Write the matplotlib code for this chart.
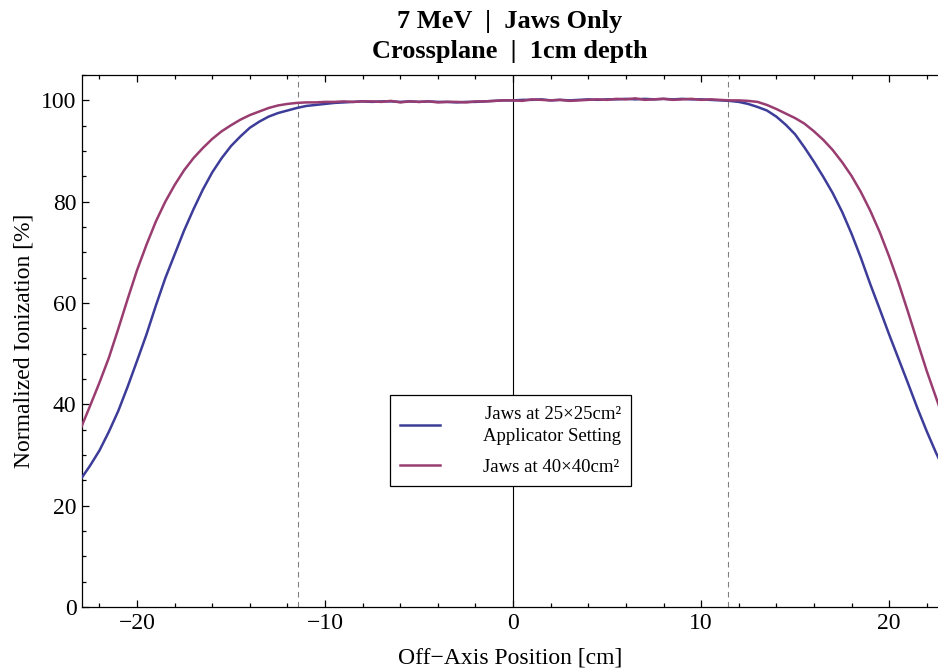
import numpy as np
import matplotlib
matplotlib.use("Agg")
import matplotlib.pyplot as plt
from matplotlib.ticker import MultipleLocator

plt.rcParams['font.family'] = ['Liberation Serif', 'DejaVu Serif']
plt.rcParams['mathtext.fontset'] = 'stix'

# off-axis positions [cm], sampled every 0.5 cm
position = np.arange(-23.0, 23.01, 0.5)

# jaws at 25x25 cm^2 (applicator setting)
jaws_25 = [
    25.2, 27.9, 30.9, 34.6, 38.7, 43.5, 48.6, 53.8, 59.5, 64.9,
    69.6, 74.3, 78.5, 82.4, 85.8, 88.6, 91.0, 92.9, 94.6, 95.8,
    96.8, 97.5, 98.0, 98.5, 98.9, 99.1, 99.3,
    99.5, 99.6, 99.7, 99.8, 99.7, 99.8, 99.8, 99.7, 99.8, 99.7,
    99.8, 99.7, 99.7, 99.6, 99.7, 99.7, 99.8, 99.9, 100.0, 100.0,
    100.1, 100.1, 100.2, 100.0, 100.1, 100.0, 100.1, 100.2, 100.1, 100.2,
    100.2, 100.3, 100.2, 100.3, 100.2, 100.3, 100.2, 100.3, 100.2, 100.2,
    100.1,
    100.0, 99.9, 99.7, 99.3, 98.7, 98.0, 96.8, 95.2, 93.3, 90.7,
    87.9, 84.9, 81.7, 78.0, 73.7, 68.9, 63.7, 58.8, 53.8, 49.0,
    44.2, 39.3, 34.7, 30.4, 26.5,
]

# jaws at 40x40 cm^2
jaws_40 = [
    35.2, 39.7, 44.3, 49.2, 54.9, 60.8, 66.5, 71.5, 76.1, 80.0,
    83.3, 86.2, 88.6, 90.6, 92.4, 93.9, 95.1, 96.2, 97.1, 97.8,
    98.5, 99.0, 99.3, 99.5, 99.6, 99.6, 99.7,
    99.7, 99.8, 99.7, 99.8, 99.8, 99.7, 99.9, 99.6, 99.8, 99.7,
    99.8, 99.6, 99.7, 99.7, 99.6, 99.8, 99.8, 99.9, 100.0, 100.0,
    99.9, 100.2, 100.1, 100.0, 100.1, 99.9, 100.0, 100.1, 100.2, 100.1,
    100.3, 100.2, 100.4, 100.1, 100.2, 100.3, 100.1, 100.2, 100.3, 100.1,
    100.2,
    100.1, 100.0, 100.0, 99.9, 99.7, 99.1, 98.3, 97.4, 96.5, 95.4,
    93.9, 92.2, 90.2, 87.8, 85.1, 81.9, 78.2, 74.0, 69.2, 64.0,
    58.3, 52.4, 46.6, 41.3, 36.0,
]

labels = ["Jaws at 25\u00d725cm\u00b2\nApplicator Setting", "Jaws at 40\u00d740cm\u00b2"]
colors = ["#3d3d99", "#993d71"]
field_edge = 11.43

fig = plt.figure(figsize=(9.38, 6.70), dpi=100)
ax = fig.add_axes([0.0874, 0.094, 0.9126, 0.794])

ax.axvline(0, color="black", lw=0.8, zorder=1)
for x in (-field_edge, field_edge):
    ax.axvline(x, color="#808080", lw=0.8, ls=(0, (5, 4)), zorder=1)

ax.plot(position, jaws_25, color=colors[0], lw=1.8, label=labels[0], zorder=3)
ax.plot(position, jaws_40, color=colors[1], lw=1.8, label=labels[1], zorder=3)

ax.set_xlim(-22.93, 22.6)
ax.set_ylim(0, 105)

ax.xaxis.set_major_locator(MultipleLocator(10))
ax.xaxis.set_minor_locator(MultipleLocator(2))
ax.yaxis.set_major_locator(MultipleLocator(20))
ax.yaxis.set_minor_locator(MultipleLocator(5))
ax.tick_params(which="both", direction="in", top=True, right=False,
               labelsize=17, width=0.9)
ax.tick_params(which="major", length=5, pad=4)
ax.tick_params(which="minor", length=3)
ax.spines["right"].set_visible(False)
for s in ("left", "bottom", "top"):
    ax.spines[s].set_linewidth(0.9)

ax.set_xlabel("Off\u2212Axis Position [cm]", fontsize=17, labelpad=10)
ax.set_ylabel("Normalized Ionization [%]", fontsize=17, labelpad=5)
ax.set_title("7 MeV  |  Jaws Only\nCrossplane  |  1cm depth",
             fontsize=19, fontweight="bold", pad=12, linespacing=1.4)

leg = ax.legend(loc="upper left", bbox_to_anchor=(0.36, 0.398), fontsize=13.5,
                frameon=True, fancybox=False, framealpha=1, edgecolor="black",
                handlelength=2.1, handletextpad=2.3, borderpad=0.55,
                labelspacing=0.75, borderaxespad=0)
leg.get_frame().set_linewidth(0.9)
leg.set_zorder(5)
for t in leg.get_texts():
    t.set_multialignment("right")
    t.set_linespacing(1.4)

fig.savefig("out.png", dpi=100)
